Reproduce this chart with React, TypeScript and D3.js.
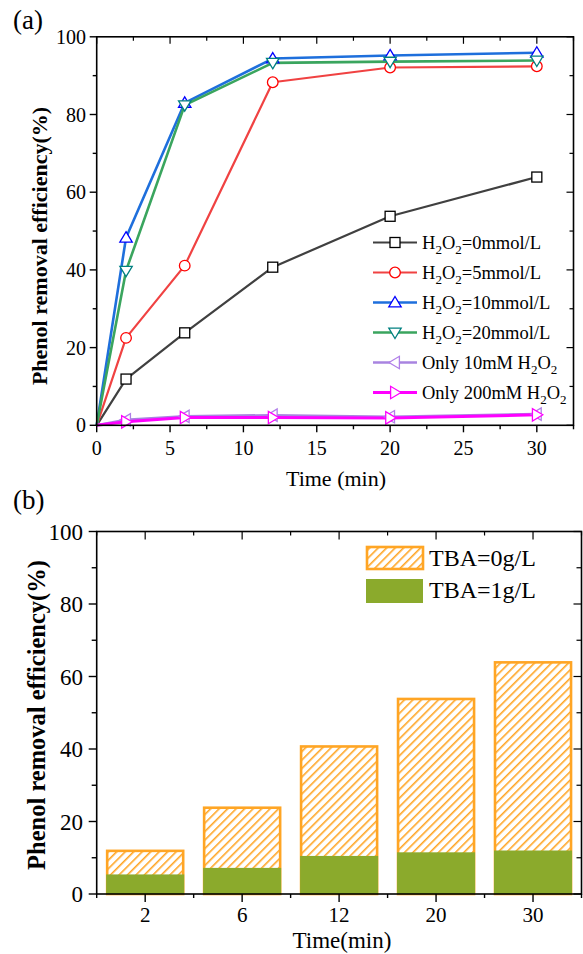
import React from 'react';
import * as d3 from 'd3';

const times = [0, 2, 6, 12, 20, 30];
const h0 = [0, 11.9, 23.8, 40.7, 53.8, 63.9];
const h5 = [0, 22.5, 41.1, 88.3, 92.1, 92.4];
const h10 = [0, 48.3, 83.0, 94.4, 95.2, 95.9];
const h20 = [0, 39.8, 82.4, 93.3, 93.6, 93.9];
const only10 = [0, 1.4, 2.3, 2.6, 2.2, 2.9];
const only200 = [0, 0.9, 2.0, 2.0, 1.9, 2.7];
const xTicksA = [0, 5, 10, 15, 20, 25, 30];
const yTicks = [0, 20, 40, 60, 80, 100];

const barCats = ['2', '6', '12', '20', '30'];
const tba0 = [11.9, 23.8, 40.7, 53.8, 63.9];
const tba1 = [5.4, 7.2, 10.5, 11.5, 12.0];

type Series = { pre: string; post: string; values: number[]; line: string; mk: string; shape: string; lw: number };

const seriesA: Series[] = [
  { pre: 'H', post: '=0mmol/L', values: h0, line: '#404040', mk: '#000000', shape: 'square', lw: 2.2 },
  { pre: 'H', post: '=5mmol/L', values: h5, line: '#F04242', mk: '#FF0000', shape: 'circle', lw: 2.2 },
  { pre: 'H', post: '=10mmol/L', values: h10, line: '#1E6FDC', mk: '#0000FF', shape: 'up', lw: 2.6 },
  { pre: 'H', post: '=20mmol/L', values: h20, line: '#3AA55E', mk: '#008080', shape: 'down', lw: 2.6 },
  { pre: 'Only 10mM H', post: '', values: only10, line: '#A884E0', mk: '#B07FE8', shape: 'left', lw: 2.6 },
  { pre: 'Only 200mM H', post: '', values: only200, line: '#FF00FF', mk: '#FF00FF', shape: 'right', lw: 3 },
];

const FONT = '"Liberation Serif", "Times New Roman", serif';

function marker(shape: string, cx: number, cy: number, color: string, key: string) {
  const s = 5.5;
  if (shape === 'square') return <rect key={key} x={cx - 5} y={cy - 5} width={10} height={10} fill="white" stroke={color} strokeWidth={1.3} />;
  if (shape === 'circle') return <circle key={key} cx={cx} cy={cy} r={5.3} fill="white" stroke={color} strokeWidth={1.3} />;
  let pts: number[][] = [];
  if (shape === 'up') pts = [[cx, cy - s - 0.5], [cx + s + 0.7, cy + s * 0.8], [cx - s - 0.7, cy + s * 0.8]];
  if (shape === 'down') pts = [[cx, cy + s + 0.5], [cx + s + 0.7, cy - s * 0.8], [cx - s - 0.7, cy - s * 0.8]];
  if (shape === 'left') pts = [[cx - s - 0.5, cy], [cx + s * 0.8, cy - s - 0.7], [cx + s * 0.8, cy + s + 0.7]];
  if (shape === 'right') pts = [[cx + s + 0.5, cy], [cx - s * 0.8, cy - s - 0.7], [cx - s * 0.8, cy + s + 0.7]];
  return <polygon key={key} points={pts.map(p => p.join(',')).join(' ')} fill="white" stroke={color} strokeWidth={1.3} />;
}

function H2O2Label({ s, x, y }: { s: Series; x: number; y: number }) {
  return (
    <text x={x} y={y} fontFamily={FONT} fontSize={18.5} fill="#000">
      <tspan>{s.pre}</tspan>
      <tspan dy={5} fontSize={13}>2</tspan>
      <tspan dy={-5}>O</tspan>
      <tspan dy={5} fontSize={13}>2</tspan>
      <tspan dy={-5}>{s.post}</tspan>
    </text>
  );
}

export default function App() {
  // Chart A
  const xA = d3.scaleLinear().domain([0, 32.5]).range([96.7, 573.5]);
  const yA = d3.scaleLinear().domain([0, 100]).range([425.3, 36.8]);
  const line = d3.line<number>().x((_, i) => xA(times[i])).y(d => yA(d));
  const xMinorA = d3.range(0, 32.6, 2.5);
  const yMinor = d3.range(0, 101, 10);

  // Chart B
  const xB = d3.scaleBand<string>().domain(barCats).range([96.7, 581.5]).paddingInner(0.216).paddingOuter(0.108);
  const yB = d3.scaleLinear().domain([0, 100]).range([894, 531.5]);
  const stepB = xB.step();
  const bBounds = d3.range(0, barCats.length + 1).map(i => 96.7 + i * stepB);

  const [ax0, ax1] = xA.range();
  const [ay0, ay1] = yA.range();
  const bx0 = 96.7, bx1 = 581.5;
  const [by0, by1] = yB.range();

  return (
    <svg width={583} height={954} style={{ position: 'absolute', left: 0, top: 0, background: 'white' }}>
      <defs>
        <pattern id="hatch" patternUnits="userSpaceOnUse" width={6} height={6} patternTransform="rotate(45)">
          <rect width={6} height={6} fill="white" />
          <line x1={0} y1={0} x2={0} y2={6} stroke="#FFA524" strokeWidth={3.2} />
        </pattern>
      </defs>

      {/* ---------------- Chart A ---------------- */}
      <text x={13} y={29} fontFamily={FONT} fontSize={27}>(a)</text>

      <g>
        {seriesA.map((s, si) => (
          <path key={'l' + si} d={line(s.values) || ''} fill="none" stroke={s.line} strokeWidth={s.lw} strokeLinejoin="round" />
        ))}
        {seriesA.map((s, si) =>
          s.values.map((v, i) => (i === 0 ? null : marker(s.shape, xA(times[i]), yA(v), s.mk, `m${si}-${i}`)))
        )}
      </g>

      {/* axes A */}
      <rect x={ax0} y={ay1} width={ax1 - ax0} height={ay0 - ay1} fill="none" stroke="#000" strokeWidth={1.6} />
      {xMinorA.map((t, i) => {
        const major = i % 2 === 0;
        const x = xA(t);
        return (
          <g key={'xta' + i}>
            <line x1={x} x2={x} y1={ay0} y2={ay0 + (major ? 7 : 4)} stroke="#000" strokeWidth={1.4} />
            <line x1={x} x2={x} y1={ay1} y2={ay1 + (major ? 7 : 4)} stroke="#000" strokeWidth={1.2} />
          </g>
        );
      })}
      {xTicksA.map(t => (
        <text key={'xla' + t} x={xA(t)} y={455} textAnchor="middle" fontFamily={FONT} fontSize={20}>{t}</text>
      ))}
      {yMinor.map((v, i) => {
        const major = i % 2 === 0;
        const y = yA(v);
        return (
          <g key={'yta' + i}>
            <line x1={ax0 - (major ? 7 : 4)} x2={ax0} y1={y} y2={y} stroke="#000" strokeWidth={1.4} />
            <line x1={ax1 - (major ? 7 : 4)} x2={ax1} y1={y} y2={y} stroke="#000" strokeWidth={1.2} />
          </g>
        );
      })}
      {yTicks.map(v => (
        <text key={'yla' + v} x={86} y={yA(v) + 7} textAnchor="end" fontFamily={FONT} fontSize={20}>{v}</text>
      ))}
      <text x={336} y={486} textAnchor="middle" fontFamily={FONT} fontSize={22}>Time (min)</text>
      <text transform={`translate(47,246) rotate(-90)`} textAnchor="middle" fontFamily={FONT} fontSize={22} fontWeight="bold">Phenol removal efficiency(%)</text>

      {/* legend A */}
      {seriesA.map((s, i) => {
        const cy = 242.5 + i * 30;
        return (
          <g key={'lg' + i}>
            <line x1={373} x2={417} y1={cy} y2={cy} stroke={s.line} strokeWidth={s.lw} />
            {marker(s.shape, 395, cy, s.mk, 'lm' + i)}
            <H2O2Label s={s} x={422} y={cy + 6} />
          </g>
        );
      })}

      {/* ---------------- Chart B ---------------- */}
      <text x={13} y={509} fontFamily={FONT} fontSize={27}>(b)</text>

      {barCats.map((c, i) => (
        <rect key={'b0' + c} x={xB(c)!} y={yB(tba0[i])} width={xB.bandwidth()} height={by0 - yB(tba0[i])}
          fill="url(#hatch)" stroke="#FFA524" strokeWidth={2.6} />
      ))}
      {barCats.map((c, i) => (
        <rect key={'b1' + c} x={xB(c)! - 1} y={yB(tba1[i])} width={xB.bandwidth() + 2} height={by0 - yB(tba1[i])}
          fill="#8BAA2C" />
      ))}

      <rect x={bx0} y={by1} width={bx1 - bx0} height={by0 - by1} fill="none" stroke="#000" strokeWidth={1.6} />
      {bBounds.map((x, i) => (
        <g key={'bb' + i}>
          <line x1={x} x2={x} y1={by0} y2={by0 + 4} stroke="#000" strokeWidth={1.4} />
          <line x1={x} x2={x} y1={by1} y2={by1 + 4} stroke="#000" strokeWidth={1.2} />
        </g>
      ))}
      {barCats.map(c => {
        const x = xB(c)! + xB.bandwidth() / 2;
        return (
          <g key={'bc' + c}>
            <line x1={x} x2={x} y1={by0} y2={by0 + 8} stroke="#000" strokeWidth={1.4} />
            <line x1={x} x2={x} y1={by1} y2={by1 + 8} stroke="#000" strokeWidth={1.2} />
            <text x={x} y={922} textAnchor="middle" fontFamily={FONT} fontSize={21}>{c}</text>
          </g>
        );
      })}
      {yMinor.map((v, i) => {
        const major = i % 2 === 0;
        const y = yB(v);
        return (
          <g key={'ytb' + i}>
            <line x1={bx0 - (major ? 8 : 5)} x2={bx0} y1={y} y2={y} stroke="#000" strokeWidth={1.4} />
            <line x1={bx1 - (major ? 8 : 5)} x2={bx1} y1={y} y2={y} stroke="#000" strokeWidth={1.2} />
          </g>
        );
      })}
      {yTicks.map(v => (
        <text key={'ylb' + v} x={83} y={yB(v) + 8} textAnchor="end" fontFamily={FONT} fontSize={23}>{v}</text>
      ))}
      <text x={342} y={948} textAnchor="middle" fontFamily={FONT} fontSize={23}>Time(min)</text>
      <text transform={`translate(45,715) rotate(-90)`} textAnchor="middle" fontFamily={FONT} fontSize={24.5} fontWeight="bold">Phenol removal efficiency(%)</text>

      {/* legend B */}
      <rect x={367} y={547} width={56} height={22} fill="url(#hatch)" stroke="#FFA524" strokeWidth={2.6} />
      <text x={429} y={566} fontFamily={FONT} fontSize={24}>TBA=0g/L</text>
      <rect x={366} y={579} width={57} height={24} fill="#8BAA2C" />
      <text x={429} y={598} fontFamily={FONT} fontSize={24}>TBA=1g/L</text>
    </svg>
  );
}
